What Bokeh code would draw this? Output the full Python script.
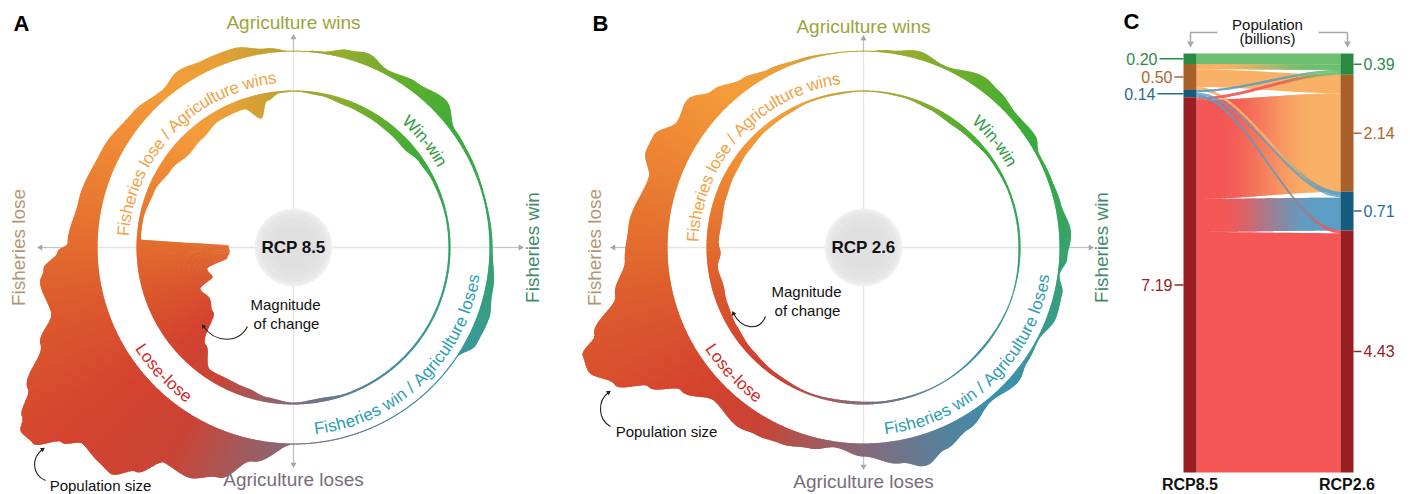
import numpy as np
from bokeh.plotting import figure
from bokeh.layouts import row
from bokeh.models import Range1d
from bokeh.core.properties import value
from bokeh.embed import file_html
from bokeh.resources import INLINE

FONT = "Liberation Sans"

# ======================= DATA =======================
# Panels A/B: band thickness by angle (deg, clockwise from "Agriculture wins")
# outer band = population size, inner band = magnitude of change
rcp85_pop_deg = [0, 8, 16, 21, 28, 37, 46, 54, 62, 75, 90, 103, 110, 118, 124, 150, 180, 191, 198, 205,
                 211, 215, 219, 222, 227, 230, 233, 236, 238, 242, 249, 255, 262, 265, 269, 271, 282, 297, 310, 320,
                 327, 334, 343, 352]
rcp85_pop_val = [0, 2, 9, 12, 5, 10, 16, 4, 3, 2, 3, 8, 12, 11, 1, 1, 1, 22, 46, 57,
                 55, 78, 95, 94, 92, 107, 130, 133, 124, 105, 75, 55, 60, 55, 40, 30, 24, 19, 14, 9,
                 15, 12, 12, 5]
rcp85_chg_deg = [0, 10, 20, 30, 40, 48, 56, 65, 80, 100, 120, 140, 160, 170, 180, 190, 198, 207, 214, 222,
                 231, 239, 246, 250, 256, 261, 266, 272, 273, 280, 292, 302, 312, 320, 330, 340, 346, 350, 355]
rcp85_chg_val = [1, 3, 6, 7, 8, 9, 5, 3, 2, 2, 2, 2, 2, 4, 2, 5, 9, 10, 9, 26,
                 54, 59, 55, 71, 68, 90, 93, 92, 4, 4, 7, 12, 17, 15, 10, 10, 24, 8, 2]

rcp26_pop_deg = [0, 8, 16, 24, 36, 41, 49, 57, 62, 70, 77, 86, 93, 98, 103, 110, 118, 125, 131, 140,
                 150, 158, 164, 170, 180, 188, 195, 203, 210, 215, 224, 232, 237, 241, 246, 249, 252, 259, 267, 275,
                 288, 294, 298, 304, 310, 316, 324, 332, 341, 352]
rcp26_pop_val = [0, 3, 8, 3, 13, 11, 7, 9, 3, 4, 6, 12, 8, 2, 8, 9, 2, 4, 9, 4,
                 14, 22, 31, 23, 13, 6, 12, 17, 20, 23, 18, 36, 60, 88, 106, 105, 87, 57, 43, 40,
                 30, 42, 42, 29, 34, 22, 12, 6, 3, 1]
rcp26_chg_deg = [0, 15, 25, 35, 45, 55, 70, 90, 110, 130, 150, 170, 185, 200, 215, 228, 238, 248, 255, 262,
                 268, 272, 280, 290, 300, 310, 320, 330, 340, 350]
rcp26_chg_val = [1, 2, 4, 6, 5, 3, 2, 2, 1, 2, 1, 2, 3, 2, 4, 6, 8, 10, 12, 10,
                 14, 12, 13, 11, 9, 7, 5, 4, 2, 2]

# Panel C: population (billions) per outcome category
c_categories = ["Win-win", "Fisheries lose / Agriculture wins", "Fisheries win / Agriculture loses", "Lose-lose"]
c_rcp85 = [0.20, 0.50, 0.14, 7.19]
c_rcp26 = [0.39, 2.14, 0.71, 4.43]
flow_src = [0, 1, 2, 3, 1, 3, 1, 2, 3, 2, 3]
flow_tgt = [0, 0, 0, 0, 1, 1, 2, 2, 2, 3, 3]
flow_val = [0.20, 0.10, 0.04, 0.05, 0.34, 1.80, 0.06, 0.05, 0.60, 0.05, 4.38]
c_scen = ["RCP8.5", "RCP2.6"]

# ======================= STYLE HELPERS =======================
ring_stop_deg = [0, 15, 35, 55, 80, 100, 120, 140, 160, 180, 195, 210, 230, 255, 275, 300, 320, 338, 350, 360]
ring_stop_col = ["#b3a232", "#93ac30", "#5fae2e", "#3aac3a", "#36a65a", "#36a078", "#38999a", "#3c8fad",
                 "#5c7f98", "#86697a", "#a45a5a", "#c94436", "#d4432f", "#dc5a2e", "#e4712f", "#ef8a35",
                 "#f49d3a", "#e7a037", "#c8a234", "#b3a232"]


def h2rgb(h):
    h = h.lstrip("#")
    return np.array([int(h[i:i + 2], 16) for i in (0, 2, 4)], dtype=float)


def rgb2h(c):
    c = np.clip(np.round(c), 0, 255).astype(int)
    return "#%02x%02x%02x" % tuple(c)


def mix(c0, c1, m):
    return rgb2h(h2rgb(c0) * (1 - m) + h2rgb(c1) * m)


def angle_color(th):
    th = th % 360
    i = np.searchsorted(ring_stop_deg, th, side="right") - 1
    i = min(max(i, 0), len(ring_stop_deg) - 2)
    t = (th - ring_stop_deg[i]) / (ring_stop_deg[i + 1] - ring_stop_deg[i])
    return mix(ring_stop_col[i], ring_stop_col[i + 1], t)


def profile(deg, val, th):
    d = np.array(list(deg) + [deg[0] + 360.0], dtype=float)
    e = np.array(list(val) + [val[0]], dtype=float)
    th = np.mod(th, 360.0)
    idx = np.clip(np.searchsorted(d, th, side="right") - 1, 0, len(d) - 2)
    t = (th - d[idx]) / (d[idx + 1] - d[idx])
    s = (1 - np.cos(np.pi * t)) / 2
    return e[idx] + (e[idx + 1] - e[idx]) * s


R_IN = 157.0
R_OUT = 196.0

AW = {" ": 278, "-": 333, ".": 278, "/": 278, "A": 667, "F": 611, "L": 556, "W": 944,
      "a": 556, "c": 500, "e": 556, "g": 556, "h": 556, "i": 222, "l": 222, "n": 556, "o": 556,
      "r": 333, "s": 500, "t": 278, "u": 556, "w": 722}


def draw_band(p, deg, val, outward, step=0.5):
    xs, ys, cols = [], [], []
    for t0 in np.arange(0, 360, step):
        tt = np.linspace(t0, t0 + step * 1.7, 3)
        e = np.maximum(profile(deg, val, tt), 0.8)
        if outward:
            ra, rb = np.full(3, R_OUT), R_OUT + e
        else:
            ra, rb = R_IN - e, np.full(3, R_IN)
        rad = np.radians(tt)
        xs.append(list(ra * np.sin(rad)) + list((rb * np.sin(rad))[::-1]))
        ys.append(list(ra * np.cos(rad)) + list((rb * np.cos(rad))[::-1]))
        cols.append(angle_color(t0 + step / 2))
    p.patches(xs, ys, fill_color=cols, line_color=None)


def arc_text(p, s, mid_deg, clockwise, fs, color):
    r = (R_IN + R_OUT) / 2 + (-6 if clockwise else 6)
    widths = [AW.get(c, 556) * fs / 1000.0 for c in s]
    span = sum(widths) / r
    mid = np.radians(mid_deg)
    xs, ys, angs = [], [], []
    cum = 0.0
    for w in widths:
        off = (cum + w / 2) / r
        if clockwise:
            th = mid - span / 2 + off
            ang = -th
        else:
            th = mid + span / 2 - off
            ang = np.pi - th
        xs.append(r * np.sin(th))
        ys.append(r * np.cos(th))
        angs.append(ang)
        cum += w
    p.text(x=xs, y=ys, text=list(s), angle=angs, text_font=value(FONT), text_font_size=f"{fs}px",
           text_color=color, text_align="center", text_baseline="alphabetic")


def label(p, x, y, s, fs, color, bold=False, angle=0.0, align="center"):
    p.text(x=[x], y=[y], text=[s], angle=angle, text_font=value(FONT), text_font_size=f"{fs}px",
           text_font_style="bold" if bold else "normal", text_color=color,
           text_align=align, text_baseline="middle")


def ring_panel(width, xr, letter, letter_xy, rcp, pop_deg, pop_val, chg_deg, chg_val, ann):
    p = figure(width=width, height=494, x_range=Range1d(*xr), y_range=Range1d(-247, 247),
               x_axis_type=None, y_axis_type=None, toolbar_location=None, output_backend="svg",
               min_border=0)
    p.outline_line_color = None
    p.background_fill_color = "white"
    p.border_fill_color = "white"
    top, bot, lef, rig = ann["tips"]
    # crosshair
    p.line([0, 0], [bot, top], line_color="#e4e4e4", line_width=1.3)
    p.line([lef, rig], [0, 0], line_color="#e4e4e4", line_width=1.3)
    for (x0, y0, x1, y1) in [(0, R_OUT, 0, top), (0, -R_OUT, 0, bot), (-R_OUT, 0, lef, 0), (R_OUT, 0, rig, 0)]:
        p.line([x0, x1], [y0, y1], line_color="#c2c2c2", line_width=1.2)
    p.scatter([0, 0, lef, rig], [top, bot, 0, 0], marker="triangle", size=6,
              angle=[0, np.pi, np.pi / 2, -np.pi / 2], fill_color="#a5a5a5", line_color=None)
    # bands
    draw_band(p, pop_deg, pop_val, True)
    draw_band(p, chg_deg, chg_val, False)
    # center
    for rr, cc in [(39, "#f1f1f1"), (37, "#eaeaea"), (34, "#e5e5e5"), (29, "#e2e2e2"), (22, "#e0e0e0")]:
        p.circle(x=[0], y=[0], radius=rr, fill_color=cc, line_color=None)
    label(p, 0, 0, rcp, 17, "#111111", bold=True)
    # arc labels
    arc_text(p, "Fisheries lose / Agriculture wins", ann["flaw"], True, 17, "#f3a246")
    arc_text(p, "Win-win", 51, True, 17, "#2e9c3e")
    arc_text(p, "Fisheries win / Agriculture loses", 136, False, 17, "#2b9db3")
    arc_text(p, "Lose-lose", 226, False, 17, "#d4281e")
    # axis labels
    label(p, 0, ann["wins_y"], "Agriculture wins", 19, "#9ba53c")
    label(p, 0, ann["loses_y"], "Agriculture loses", 19, "#7a6c7c")
    label(p, ann["flose_x"], 0, "Fisheries lose", 19, "#b49676", angle=np.pi / 2)
    label(p, ann["fwin_x"], 0, "Fisheries win", 19, "#3f8b6b", angle=np.pi / 2)
    # annotations
    mx, my = ann["mag"]
    label(p, mx, my, "Magnitude", 15, "#111111")
    label(p, mx + 1, my - 19, "of change", 15, "#111111")
    for key in ("mag_arrow", "pop_arrow"):
        (x0, y0, x1, y1, c0x, c0y, c1x, c1y, ha) = ann[key]
        p.bezier(x0=[x0], y0=[y0], x1=[x1], y1=[y1], cx0=[c0x], cy0=[c0y], cx1=[c1x], cy1=[c1y],
                 line_color="#222222", line_width=1.1)
        p.scatter([x1], [y1], marker="triangle", size=5, angle=ha, fill_color="#222222", line_color=None)
    px_, py_ = ann["pop"]
    label(p, px_, py_, "Population size", 15, "#111111")
    label(p, letter_xy[0], letter_xy[1], letter, 22, "#000000", bold=True)
    return p


pA = ring_panel(575, (-293, 282), "A", (-272, 224), "RCP 8.5",
                rcp85_pop_deg, rcp85_pop_val, rcp85_chg_deg, rcp85_chg_val,
                dict(tips=(210, -217, -253, 227), flaw=314, wins_y=225, loses_y=-232,
                     flose_x=-275, fwin_x=239, mag=(-8, -57),
                     mag_arrow=(-46, -79, -90, -79, -55, -96, -78, -96, 0.61),
                     pop_arrow=(-248, -233, -251, -202, -262, -227, -262, -210, -0.94),
                     pop=(-193, -238)))

pB = ring_panel(540, (-288, 252), "B", (-263, 224), "RCP 2.6",
                rcp26_pop_deg, rcp26_pop_val, rcp26_chg_deg, rcp26_chg_val,
                dict(tips=(209, -219, -250, 227), flaw=312, wins_y=221, loses_y=-234,
                     flose_x=-269, fwin_x=238, mag=(-57, -44),
                     mag_arrow=(-98, -69, -130, -66, -104, -84, -122, -82, 0.46),
                     pop_arrow=(-253, -179, -255, -145, -266, -172, -266, -153, -0.94),
                     pop=(-197, -184)))

# ======================= PANEL C =======================
def cxp(ximg):
    return (ximg - 1189.5) / 157.0


def cyp(yimg):
    return (yimg - 53.0) / 419.0


pC = figure(width=295, height=494, x_range=Range1d(cxp(1115), cxp(1410)),
            y_range=Range1d(cyp(494), cyp(0)), x_axis_type=None, y_axis_type=None,
            toolbar_location=None, output_backend="svg", min_border=0)
pC.outline_line_color = None

ribbon_cols = ["#6bbf6e", "#f8b166", "#5c9ec4", "#f45756"]
bar_cols = ["#2b8a42", "#a95f28", "#155b7d", "#991e22"]
lab_cols = ["#2e8b46", "#b0632a", "#1e6e94", "#9b2024"]
bw = 6.5 / 157.0

tot_l, tot_r = sum(c_rcp85), sum(c_rcp26)
l_h = np.array(c_rcp85) / tot_l
r_h = np.array(c_rcp26) / tot_r
l_top = np.concatenate([[0], np.cumsum(l_h)[:-1]])
r_top = np.concatenate([[0], np.cumsum(r_h)[:-1]])
nf = len(flow_val)
out_sum = [sum(v for s, v in zip(flow_src, flow_val) if s == i) for i in range(4)]
in_sum = [sum(v for t, v in zip(flow_tgt, flow_val) if t == i) for i in range(4)]
fl, fr = {}, {}
cur = l_top.copy()
for k in sorted(range(nf), key=lambda k: (flow_src[k], flow_tgt[k])):
    s = flow_src[k]
    h = flow_val[k] / out_sum[s] * l_h[s]
    fl[k] = (cur[s], cur[s] + h)
    cur[s] += h
cur = r_top.copy()
for k in sorted(range(nf), key=lambda k: (flow_tgt[k], flow_src[k])):
    t = flow_tgt[k]
    h = flow_val[k] / in_sum[t] * r_h[t]
    fr[k] = (cur[t], cur[t] + h)
    cur[t] += h


def sm(t):
    return t * t * (3 - 2 * t)


xs_all, ys_all, col_all, alp_all = [], [], [], []
N = 70
for k in sorted(range(nf), key=lambda k: -flow_val[k]):
    s, g = flow_src[k], flow_tgt[k]
    a0, a1 = fl[k]
    b0, b1 = fr[k]
    c0, c1 = ribbon_cols[s], ribbon_cols[g]
    small = flow_val[k] < 0.1
    if s == g:
        segs = [(0.0, 1.0)]
    else:
        segs = [(j / N, min(1.0, (j + 1.8) / N)) for j in range(N)]
    for (ta, tb) in segs:
        t = np.linspace(ta, tb, 12 if s == g else 3)
        x = bw + (1 - 2 * bw) * t
        top = a0 + (b0 - a0) * sm(t)
        bot = a1 + (b1 - a1) * sm(t)
        xs_all.append(list(x) + list(x[::-1]))
        ys_all.append(list(top) + list(bot[::-1]))
        alp_all.append(0.8 if small else 1.0)
        if s == g:
            col_all.append(c0)
        else:
            lo, span = (0.5, 0.45) if small else (0.15, 0.7)
            m = sm(np.clip(((ta + tb) / 2 - lo) / span, 0, 1))
            col_all.append(mix(c0, c1, m))
pC.patches(xs_all, ys_all, fill_color=col_all, fill_alpha=alp_all, line_color=None)

pC.quad(left=-bw, right=bw, top=l_top, bottom=l_top + l_h, fill_color=bar_cols, line_color=None)
pC.quad(left=1 - bw, right=1 + bw, top=r_top, bottom=r_top + r_h, fill_color=bar_cols, line_color=None)

tick_len_left = [24, 9, 26, 9]
for i in range(4):
    yc = l_top[i] + l_h[i] / 2
    x0 = -bw - tick_len_left[i] / 157.0
    pC.segment(x0=[x0], y0=[yc], x1=[-bw], y1=[yc], line_color=lab_cols[i], line_width=1.5)
    pC.text(x=[x0 - 2 / 157.0], y=[yc], text=[f"{c_rcp85[i]:.2f}"], text_font=value(FONT),
            text_font_size="16px", text_color=lab_cols[i], text_align="right", text_baseline="middle")
    yr = r_top[i] + r_h[i] / 2
    pC.segment(x0=[1 + bw], y0=[yr], x1=[1 + bw + 8 / 157.0], y1=[yr], line_color=lab_cols[i], line_width=1.5)
    pC.text(x=[1 + bw + 10 / 157.0], y=[yr], text=[f"{c_rcp26[i]:.2f}"], text_font=value(FONT),
            text_font_size="16px", text_color=lab_cols[i], text_align="left", text_baseline="middle")

for xi, s in zip([0, 1], c_scen):
    pC.text(x=[xi], y=[cyp(484)], text=[s], text_font=value(FONT), text_font_size="16px",
            text_font_style="bold", text_color="#111111", text_align="center", text_baseline="middle")

pC.text(x=[cxp(1267)], y=[cyp(24)], text=["Population"], text_font=value(FONT), text_font_size="15px",
        text_color="#111111", text_align="center", text_baseline="middle")
pC.text(x=[cxp(1267)], y=[cyp(38)], text=["(billions)"], text_font=value(FONT), text_font_size="15px",
        text_color="#111111", text_align="center", text_baseline="middle")
pC.line([cxp(1217), cxp(1190), cxp(1190)], [cyp(32), cyp(32), cyp(41)], line_color="#a8a8a8", line_width=1.5)
pC.line([cxp(1318), cxp(1347), cxp(1347)], [cyp(32), cyp(32), cyp(41)], line_color="#a8a8a8", line_width=1.5)
pC.scatter([cxp(1190), cxp(1347)], [cyp(43), cyp(43)], marker="triangle", size=7, angle=np.pi,
           fill_color="#a8a8a8", line_color=None)
pC.text(x=[cxp(1131)], y=[cyp(21)], text=["C"], text_font=value(FONT), text_font_size="22px",
        text_font_style="bold", text_color="#000000", text_align="center", text_baseline="middle")

layout = row(pA, pB, pC)
open("out.html", "w").write(file_html(layout, INLINE))
